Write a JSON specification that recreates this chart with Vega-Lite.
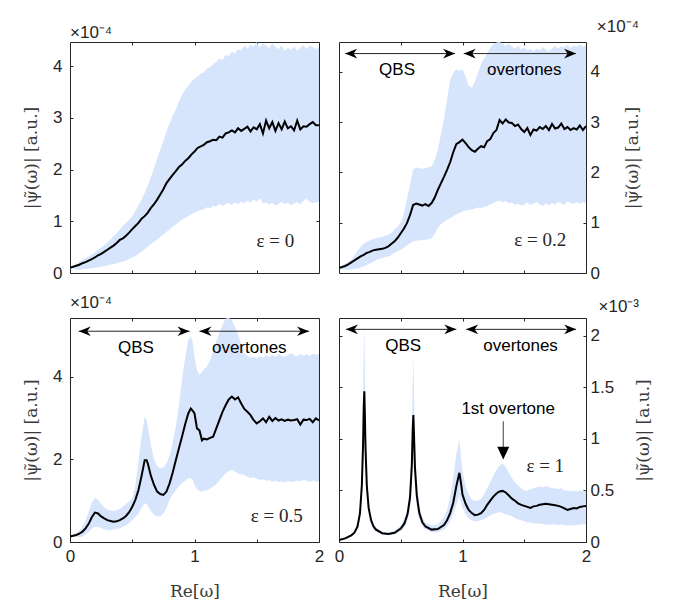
{
"$schema": "https://vega.github.io/schema/vega-lite/v6.json",
"padding": {"left": 22, "top": 17, "right": 5, "bottom": 5},
"background": "white",
"columns": 2,
"align": "each",
"bounds": "flush",
"spacing": {"row": 45, "column": 20},
"config": {
 "view": {"stroke": "#262626", "strokeWidth": 1},
 "axis": {"domain": false, "grid": false, "tickColor": "#262626", "tickSize": -3, "tickWidth": 1, "labelFont": "Liberation Sans", "labelFontSize": 17, "labelColor": "#262626", "labelPadding": 11, "titleFont": "DejaVu Serif", "titleFontSize": 17, "titleFontWeight": "normal", "titleColor": "#3a3a3a", "titlePadding": 12, "labelFlush": false},
 "title": {"font": "Liberation Sans", "fontSize": 17, "fontWeight": "normal", "color": "#262626"}
},
"datasets": {
"e0": [
{"x":0,"m":0.10,"lo":0.08,"hi":0.11},{"x":0.025,"m":0.12,"lo":0.08,"hi":0.14},{"x":0.05,"m":0.14,"lo":0.07,"hi":0.18},{"x":0.075,"m":0.16,"lo":0.07,"hi":0.22},{"x":0.1,"m":0.19,"lo":0.07,"hi":0.26},{"x":0.125,"m":0.21,"lo":0.08,"hi":0.29},{"x":0.15,"m":0.24,"lo":0.08,"hi":0.32},{"x":0.175,"m":0.27,"lo":0.09,"hi":0.36},{"x":0.2,"m":0.30,"lo":0.10,"hi":0.40},{"x":0.225,"m":0.34,"lo":0.11,"hi":0.45},{"x":0.25,"m":0.37,"lo":0.12,"hi":0.49},{"x":0.275,"m":0.41,"lo":0.13,"hi":0.54},{"x":0.3,"m":0.45,"lo":0.15,"hi":0.59},{"x":0.325,"m":0.49,"lo":0.16,"hi":0.65},{"x":0.35,"m":0.53,"lo":0.17,"hi":0.71},{"x":0.375,"m":0.58,"lo":0.19,"hi":0.77},{"x":0.4,"m":0.64,"lo":0.21,"hi":0.84},{"x":0.425,"m":0.67,"lo":0.22,"hi":0.91},{"x":0.45,"m":0.72,"lo":0.24,"hi":0.97},{"x":0.475,"m":0.78,"lo":0.27,"hi":1.03},{"x":0.5,"m":0.85,"lo":0.30,"hi":1.10},{"x":0.525,"m":0.91,"lo":0.33,"hi":1.20},{"x":0.55,"m":0.97,"lo":0.37,"hi":1.31},{"x":0.575,"m":1.05,"lo":0.42,"hi":1.42},{"x":0.6,"m":1.10,"lo":0.46,"hi":1.55},{"x":0.625,"m":1.17,"lo":0.51,"hi":1.70},{"x":0.65,"m":1.26,"lo":0.56,"hi":1.86},{"x":0.675,"m":1.33,"lo":0.60,"hi":2.03},{"x":0.7,"m":1.42,"lo":0.65,"hi":2.20},{"x":0.725,"m":1.52,"lo":0.70,"hi":2.38},{"x":0.75,"m":1.62,"lo":0.74,"hi":2.56},{"x":0.775,"m":1.74,"lo":0.80,"hi":2.74},{"x":0.8,"m":1.82,"lo":0.84,"hi":2.90},{"x":0.825,"m":1.90,"lo":0.90,"hi":3.04},{"x":0.85,"m":1.97,"lo":0.94,"hi":3.16},{"x":0.875,"m":2.05,"lo":0.99,"hi":3.32},{"x":0.9,"m":2.10,"lo":1.04,"hi":3.45},{"x":0.925,"m":2.17,"lo":1.07,"hi":3.55},{"x":0.95,"m":2.22,"lo":1.10,"hi":3.62},{"x":0.975,"m":2.29,"lo":1.14,"hi":3.70},{"x":1.0,"m":2.35,"lo":1.17,"hi":3.76},{"x":1.025,"m":2.42,"lo":1.20,"hi":3.80},{"x":1.05,"m":2.45,"lo":1.22,"hi":3.86},{"x":1.075,"m":2.48,"lo":1.23,"hi":3.88},{"x":1.1,"m":2.53,"lo":1.27,"hi":3.96},{"x":1.125,"m":2.55,"lo":1.25,"hi":3.98},{"x":1.15,"m":2.58,"lo":1.30,"hi":4.05},{"x":1.175,"m":2.57,"lo":1.28,"hi":4.08},{"x":1.2,"m":2.64,"lo":1.34,"hi":4.15},{"x":1.225,"m":2.62,"lo":1.30,"hi":4.12},{"x":1.25,"m":2.70,"lo":1.33,"hi":4.22},{"x":1.275,"m":2.72,"lo":1.36,"hi":4.20},{"x":1.3,"m":2.76,"lo":1.31,"hi":4.28},{"x":1.325,"m":2.72,"lo":1.37,"hi":4.25},{"x":1.35,"m":2.80,"lo":1.33,"hi":4.33},{"x":1.375,"m":2.75,"lo":1.38,"hi":4.30},{"x":1.4,"m":2.79,"lo":1.35,"hi":4.40},{"x":1.425,"m":2.83,"lo":1.40,"hi":4.34},{"x":1.45,"m":2.74,"lo":1.36,"hi":4.42},{"x":1.475,"m":2.82,"lo":1.43,"hi":4.38},{"x":1.5,"m":2.78,"lo":1.38,"hi":4.47},{"x":1.525,"m":2.88,"lo":1.45,"hi":4.36},{"x":1.55,"m":2.70,"lo":1.34,"hi":4.44},{"x":1.575,"m":2.95,"lo":1.37,"hi":4.40},{"x":1.6,"m":2.80,"lo":1.32,"hi":4.35},{"x":1.625,"m":2.92,"lo":1.36,"hi":4.44},{"x":1.65,"m":2.75,"lo":1.30,"hi":4.38},{"x":1.675,"m":2.90,"lo":1.34,"hi":4.33},{"x":1.7,"m":2.78,"lo":1.38,"hi":4.40},{"x":1.725,"m":2.93,"lo":1.33,"hi":4.30},{"x":1.75,"m":2.80,"lo":1.36,"hi":4.36},{"x":1.775,"m":2.84,"lo":1.31,"hi":4.32},{"x":1.8,"m":2.76,"lo":1.35,"hi":4.38},{"x":1.825,"m":2.95,"lo":1.37,"hi":4.30},{"x":1.85,"m":2.78,"lo":1.33,"hi":4.36},{"x":1.875,"m":2.84,"lo":1.40,"hi":4.41},{"x":1.9,"m":2.83,"lo":1.44,"hi":4.33},{"x":1.925,"m":2.88,"lo":1.38,"hi":4.40},{"x":1.95,"m":2.92,"lo":1.35,"hi":4.37},{"x":1.975,"m":2.86,"lo":1.37,"hi":4.34},{"x":2.0,"m":2.86,"lo":1.38,"hi":4.36}
],
"e2": [
{"x":0,"m":0.10,"lo":0.08,"hi":0.11},{"x":0.025,"m":0.12,"lo":0.07,"hi":0.15},{"x":0.05,"m":0.14,"lo":0.07,"hi":0.19},{"x":0.075,"m":0.17,"lo":0.07,"hi":0.22},{"x":0.1,"m":0.21,"lo":0.07,"hi":0.27},{"x":0.125,"m":0.25,"lo":0.08,"hi":0.35},{"x":0.15,"m":0.29,"lo":0.09,"hi":0.44},{"x":0.175,"m":0.33,"lo":0.11,"hi":0.52},{"x":0.2,"m":0.36,"lo":0.13,"hi":0.58},{"x":0.225,"m":0.40,"lo":0.16,"hi":0.62},{"x":0.25,"m":0.42,"lo":0.19,"hi":0.65},{"x":0.275,"m":0.45,"lo":0.22,"hi":0.67},{"x":0.3,"m":0.46,"lo":0.26,"hi":0.69},{"x":0.325,"m":0.47,"lo":0.28,"hi":0.70},{"x":0.35,"m":0.48,"lo":0.30,"hi":0.72},{"x":0.375,"m":0.50,"lo":0.32,"hi":0.74},{"x":0.4,"m":0.53,"lo":0.33,"hi":0.76},{"x":0.425,"m":0.58,"lo":0.36,"hi":0.80},{"x":0.45,"m":0.63,"lo":0.40,"hi":0.86},{"x":0.475,"m":0.70,"lo":0.43,"hi":0.92},{"x":0.5,"m":0.79,"lo":0.46,"hi":1.00},{"x":0.525,"m":0.88,"lo":0.50,"hi":1.18},{"x":0.55,"m":0.99,"lo":0.55,"hi":1.45},{"x":0.575,"m":1.15,"lo":0.59,"hi":1.75},{"x":0.6,"m":1.35,"lo":0.63,"hi":2.05},{"x":0.625,"m":1.38,"lo":0.64,"hi":2.10},{"x":0.65,"m":1.36,"lo":0.65,"hi":2.08},{"x":0.675,"m":1.34,"lo":0.65,"hi":2.07},{"x":0.7,"m":1.37,"lo":0.66,"hi":2.08},{"x":0.725,"m":1.33,"lo":0.67,"hi":2.10},{"x":0.75,"m":1.39,"lo":0.69,"hi":2.12},{"x":0.775,"m":1.50,"lo":0.78,"hi":2.25},{"x":0.8,"m":1.65,"lo":0.90,"hi":2.44},{"x":0.825,"m":1.78,"lo":0.97,"hi":2.75},{"x":0.85,"m":1.91,"lo":1.02,"hi":3.05},{"x":0.875,"m":2.05,"lo":1.06,"hi":3.45},{"x":0.9,"m":2.20,"lo":1.09,"hi":3.83},{"x":0.925,"m":2.40,"lo":1.13,"hi":3.98},{"x":0.95,"m":2.56,"lo":1.16,"hi":4.05},{"x":0.975,"m":2.60,"lo":1.19,"hi":4.02},{"x":1.0,"m":2.65,"lo":1.22,"hi":4.05},{"x":1.025,"m":2.58,"lo":1.24,"hi":3.90},{"x":1.05,"m":2.50,"lo":1.25,"hi":3.72},{"x":1.075,"m":2.44,"lo":1.26,"hi":3.68},{"x":1.1,"m":2.41,"lo":1.28,"hi":3.80},{"x":1.125,"m":2.47,"lo":1.30,"hi":3.97},{"x":1.15,"m":2.52,"lo":1.29,"hi":4.15},{"x":1.175,"m":2.50,"lo":1.31,"hi":4.26},{"x":1.2,"m":2.62,"lo":1.33,"hi":4.36},{"x":1.225,"m":2.66,"lo":1.36,"hi":4.47},{"x":1.25,"m":2.78,"lo":1.39,"hi":4.55},{"x":1.275,"m":2.84,"lo":1.42,"hi":4.58},{"x":1.3,"m":3.04,"lo":1.44,"hi":4.59},{"x":1.325,"m":2.97,"lo":1.40,"hi":4.55},{"x":1.35,"m":3.05,"lo":1.43,"hi":4.52},{"x":1.375,"m":2.99,"lo":1.38,"hi":4.56},{"x":1.4,"m":2.98,"lo":1.40,"hi":4.50},{"x":1.425,"m":2.92,"lo":1.36,"hi":4.46},{"x":1.45,"m":2.95,"lo":1.37,"hi":4.52},{"x":1.475,"m":2.86,"lo":1.34,"hi":4.44},{"x":1.5,"m":2.80,"lo":1.36,"hi":4.48},{"x":1.525,"m":2.88,"lo":1.40,"hi":4.42},{"x":1.55,"m":2.74,"lo":1.35,"hi":4.45},{"x":1.575,"m":2.85,"lo":1.38,"hi":4.40},{"x":1.6,"m":2.83,"lo":1.41,"hi":4.46},{"x":1.625,"m":2.90,"lo":1.36,"hi":4.42},{"x":1.65,"m":2.86,"lo":1.33,"hi":4.49},{"x":1.675,"m":2.92,"lo":1.38,"hi":4.44},{"x":1.7,"m":2.84,"lo":1.35,"hi":4.40},{"x":1.725,"m":2.96,"lo":1.39,"hi":4.47},{"x":1.75,"m":2.87,"lo":1.36,"hi":4.51},{"x":1.775,"m":2.89,"lo":1.41,"hi":4.46},{"x":1.8,"m":2.97,"lo":1.38,"hi":4.50},{"x":1.825,"m":2.86,"lo":1.35,"hi":4.48},{"x":1.85,"m":2.90,"lo":1.42,"hi":4.53},{"x":1.875,"m":2.84,"lo":1.39,"hi":4.47},{"x":1.9,"m":2.88,"lo":1.37,"hi":4.52},{"x":1.925,"m":2.85,"lo":1.41,"hi":4.49},{"x":1.95,"m":2.93,"lo":1.38,"hi":4.54},{"x":1.975,"m":2.84,"lo":1.40,"hi":4.50},{"x":2.0,"m":2.92,"lo":1.39,"hi":4.52}
],
"e5": [
{"x":0,"m":0.13,"lo":0.12,"hi":0.14},{"x":0.025,"m":0.15,"lo":0.12,"hi":0.17},{"x":0.05,"m":0.17,"lo":0.12,"hi":0.21},{"x":0.075,"m":0.20,"lo":0.12,"hi":0.28},{"x":0.1,"m":0.25,"lo":0.13,"hi":0.37},{"x":0.125,"m":0.33,"lo":0.18,"hi":0.52},{"x":0.15,"m":0.44,"lo":0.24,"hi":0.74},{"x":0.175,"m":0.60,"lo":0.32,"hi":0.95},{"x":0.2,"m":0.71,"lo":0.37,"hi":1.07},{"x":0.225,"m":0.69,"lo":0.36,"hi":1.02},{"x":0.25,"m":0.62,"lo":0.33,"hi":0.92},{"x":0.275,"m":0.57,"lo":0.31,"hi":0.84},{"x":0.3,"m":0.53,"lo":0.29,"hi":0.78},{"x":0.325,"m":0.51,"lo":0.29,"hi":0.76},{"x":0.35,"m":0.49,"lo":0.30,"hi":0.75},{"x":0.375,"m":0.50,"lo":0.31,"hi":0.77},{"x":0.4,"m":0.53,"lo":0.33,"hi":0.80},{"x":0.425,"m":0.57,"lo":0.36,"hi":0.85},{"x":0.45,"m":0.63,"lo":0.40,"hi":0.92},{"x":0.475,"m":0.72,"lo":0.46,"hi":0.98},{"x":0.5,"m":0.85,"lo":0.53,"hi":1.06},{"x":0.525,"m":1.02,"lo":0.60,"hi":1.35},{"x":0.55,"m":1.26,"lo":0.69,"hi":1.95},{"x":0.575,"m":1.60,"lo":0.82,"hi":2.55},{"x":0.6,"m":1.98,"lo":0.94,"hi":3.03},{"x":0.615,"m":1.98,"lo":0.92,"hi":2.95},{"x":0.625,"m":1.90,"lo":0.88,"hi":2.80},{"x":0.65,"m":1.60,"lo":0.75,"hi":2.35},{"x":0.675,"m":1.38,"lo":0.66,"hi":2.00},{"x":0.7,"m":1.22,"lo":0.61,"hi":1.83},{"x":0.725,"m":1.16,"lo":0.63,"hi":1.78},{"x":0.75,"m":1.14,"lo":0.69,"hi":1.80},{"x":0.775,"m":1.22,"lo":0.82,"hi":1.90},{"x":0.8,"m":1.42,"lo":1.02,"hi":2.08},{"x":0.825,"m":1.68,"lo":1.15,"hi":2.40},{"x":0.85,"m":1.98,"lo":1.26,"hi":2.80},{"x":0.875,"m":2.27,"lo":1.35,"hi":3.30},{"x":0.9,"m":2.55,"lo":1.42,"hi":3.92},{"x":0.925,"m":2.85,"lo":1.48,"hi":4.45},{"x":0.95,"m":3.11,"lo":1.54,"hi":4.89},{"x":0.97,"m":3.23,"lo":1.55,"hi":4.98},{"x":0.985,"m":3.18,"lo":1.50,"hi":4.85},{"x":1.0,"m":3.11,"lo":1.38,"hi":4.48},{"x":1.02,"m":2.75,"lo":1.28,"hi":4.15},{"x":1.04,"m":2.70,"lo":1.23,"hi":4.05},{"x":1.06,"m":2.46,"lo":1.22,"hi":4.10},{"x":1.075,"m":2.50,"lo":1.24,"hi":4.18},{"x":1.1,"m":2.48,"lo":1.26,"hi":4.24},{"x":1.125,"m":2.52,"lo":1.29,"hi":4.40},{"x":1.15,"m":2.55,"lo":1.34,"hi":4.62},{"x":1.175,"m":2.75,"lo":1.40,"hi":4.85},{"x":1.2,"m":2.95,"lo":1.48,"hi":5.05},{"x":1.225,"m":3.15,"lo":1.58,"hi":5.25},{"x":1.25,"m":3.31,"lo":1.66,"hi":5.41},{"x":1.275,"m":3.45,"lo":1.72,"hi":5.42},{"x":1.3,"m":3.52,"lo":1.74,"hi":5.37},{"x":1.325,"m":3.45,"lo":1.70,"hi":5.20},{"x":1.35,"m":3.50,"lo":1.66,"hi":5.02},{"x":1.375,"m":3.35,"lo":1.64,"hi":4.78},{"x":1.4,"m":3.22,"lo":1.62,"hi":4.56},{"x":1.425,"m":3.15,"lo":1.58,"hi":4.50},{"x":1.45,"m":3.07,"lo":1.55,"hi":4.46},{"x":1.475,"m":2.95,"lo":1.56,"hi":4.48},{"x":1.5,"m":2.87,"lo":1.53,"hi":4.44},{"x":1.525,"m":2.92,"lo":1.50,"hi":4.50},{"x":1.55,"m":2.99,"lo":1.52,"hi":4.46},{"x":1.575,"m":2.90,"lo":1.48,"hi":4.51},{"x":1.6,"m":3.03,"lo":1.50,"hi":4.47},{"x":1.625,"m":2.93,"lo":1.46,"hi":4.53},{"x":1.65,"m":3.00,"lo":1.49,"hi":4.49},{"x":1.675,"m":2.94,"lo":1.45,"hi":4.55},{"x":1.7,"m":2.97,"lo":1.47,"hi":4.50},{"x":1.725,"m":2.93,"lo":1.44,"hi":4.48},{"x":1.75,"m":2.96,"lo":1.47,"hi":4.53},{"x":1.775,"m":2.94,"lo":1.46,"hi":4.57},{"x":1.8,"m":2.95,"lo":1.45,"hi":4.52},{"x":1.825,"m":2.97,"lo":1.49,"hi":4.49},{"x":1.85,"m":2.84,"lo":1.47,"hi":4.55},{"x":1.875,"m":2.96,"lo":1.50,"hi":4.51},{"x":1.9,"m":2.95,"lo":1.49,"hi":4.54},{"x":1.925,"m":2.98,"lo":1.46,"hi":4.50},{"x":1.95,"m":2.90,"lo":1.48,"hi":4.56},{"x":1.975,"m":2.99,"lo":1.47,"hi":4.53},{"x":2.0,"m":2.94,"lo":1.46,"hi":4.55}
],
"e10": [
{"x":0,"m":0.02,"lo":0.015,"hi":0.03},{"x":0.05,"m":0.035,"lo":0.03,"hi":0.045},{"x":0.1,"m":0.065,"lo":0.055,"hi":0.08},{"x":0.125,"m":0.09,"lo":0.075,"hi":0.11},{"x":0.15,"m":0.15,"lo":0.12,"hi":0.19},{"x":0.17,"m":0.28,"lo":0.22,"hi":0.36},{"x":0.185,"m":0.55,"lo":0.42,"hi":0.75},{"x":0.195,"m":0.95,"lo":0.70,"hi":1.30},{"x":0.2,"m":1.30,"lo":0.95,"hi":1.90},{"x":0.205,"m":1.46,"lo":1.05,"hi":2.10},{"x":0.21,"m":1.20,"lo":0.90,"hi":1.65},{"x":0.215,"m":0.90,"lo":0.68,"hi":1.15},{"x":0.225,"m":0.55,"lo":0.42,"hi":0.70},{"x":0.24,"m":0.33,"lo":0.26,"hi":0.40},{"x":0.26,"m":0.21,"lo":0.17,"hi":0.25},{"x":0.28,"m":0.15,"lo":0.12,"hi":0.18},{"x":0.3,"m":0.12,"lo":0.10,"hi":0.14},{"x":0.35,"m":0.085,"lo":0.07,"hi":0.10},{"x":0.4,"m":0.078,"lo":0.065,"hi":0.09},{"x":0.45,"m":0.09,"lo":0.075,"hi":0.11},{"x":0.5,"m":0.13,"lo":0.105,"hi":0.16},{"x":0.53,"m":0.18,"lo":0.14,"hi":0.22},{"x":0.555,"m":0.27,"lo":0.21,"hi":0.33},{"x":0.575,"m":0.43,"lo":0.32,"hi":0.56},{"x":0.59,"m":0.75,"lo":0.55,"hi":1.05},{"x":0.597,"m":1.10,"lo":0.85,"hi":1.55},{"x":0.602,"m":1.23,"lo":0.95,"hi":1.80},{"x":0.607,"m":1.05,"lo":0.80,"hi":1.50},{"x":0.615,"m":0.72,"lo":0.55,"hi":0.98},{"x":0.63,"m":0.45,"lo":0.34,"hi":0.58},{"x":0.65,"m":0.28,"lo":0.22,"hi":0.36},{"x":0.675,"m":0.19,"lo":0.15,"hi":0.24},{"x":0.7,"m":0.15,"lo":0.12,"hi":0.19},{"x":0.75,"m":0.12,"lo":0.095,"hi":0.16},{"x":0.8,"m":0.125,"lo":0.095,"hi":0.17},{"x":0.85,"m":0.165,"lo":0.12,"hi":0.24},{"x":0.875,"m":0.21,"lo":0.15,"hi":0.31},{"x":0.9,"m":0.28,"lo":0.20,"hi":0.43},{"x":0.925,"m":0.38,"lo":0.27,"hi":0.62},{"x":0.95,"m":0.54,"lo":0.36,"hi":0.85},{"x":0.965,"m":0.62,"lo":0.41,"hi":0.93},{"x":0.975,"m":0.67,"lo":0.44,"hi":0.99},{"x":0.99,"m":0.55,"lo":0.37,"hi":0.80},{"x":1.0,"m":0.46,"lo":0.33,"hi":0.68},{"x":1.025,"m":0.37,"lo":0.27,"hi":0.54},{"x":1.05,"m":0.31,"lo":0.23,"hi":0.46},{"x":1.075,"m":0.28,"lo":0.21,"hi":0.41},{"x":1.1,"m":0.26,"lo":0.20,"hi":0.40},{"x":1.125,"m":0.265,"lo":0.20,"hi":0.40},{"x":1.15,"m":0.28,"lo":0.21,"hi":0.42},{"x":1.175,"m":0.31,"lo":0.22,"hi":0.46},{"x":1.2,"m":0.36,"lo":0.24,"hi":0.52},{"x":1.225,"m":0.40,"lo":0.26,"hi":0.58},{"x":1.25,"m":0.44,"lo":0.27,"hi":0.64},{"x":1.275,"m":0.47,"lo":0.28,"hi":0.70},{"x":1.3,"m":0.49,"lo":0.29,"hi":0.74},{"x":1.325,"m":0.495,"lo":0.28,"hi":0.76},{"x":1.35,"m":0.48,"lo":0.27,"hi":0.73},{"x":1.375,"m":0.45,"lo":0.26,"hi":0.67},{"x":1.4,"m":0.42,"lo":0.25,"hi":0.62},{"x":1.425,"m":0.40,"lo":0.23,"hi":0.58},{"x":1.45,"m":0.375,"lo":0.22,"hi":0.55},{"x":1.475,"m":0.36,"lo":0.21,"hi":0.52},{"x":1.5,"m":0.35,"lo":0.20,"hi":0.50},{"x":1.525,"m":0.34,"lo":0.19,"hi":0.50},{"x":1.55,"m":0.33,"lo":0.19,"hi":0.51},{"x":1.575,"m":0.345,"lo":0.185,"hi":0.52},{"x":1.6,"m":0.35,"lo":0.18,"hi":0.53},{"x":1.625,"m":0.36,"lo":0.18,"hi":0.54},{"x":1.65,"m":0.365,"lo":0.175,"hi":0.53},{"x":1.675,"m":0.37,"lo":0.17,"hi":0.54},{"x":1.7,"m":0.365,"lo":0.17,"hi":0.53},{"x":1.725,"m":0.36,"lo":0.17,"hi":0.52},{"x":1.75,"m":0.355,"lo":0.17,"hi":0.52},{"x":1.775,"m":0.35,"lo":0.165,"hi":0.51},{"x":1.8,"m":0.34,"lo":0.17,"hi":0.52},{"x":1.825,"m":0.325,"lo":0.165,"hi":0.50},{"x":1.85,"m":0.31,"lo":0.16,"hi":0.50},{"x":1.875,"m":0.32,"lo":0.165,"hi":0.49},{"x":1.9,"m":0.33,"lo":0.16,"hi":0.50},{"x":1.925,"m":0.325,"lo":0.165,"hi":0.49},{"x":1.95,"m":0.34,"lo":0.17,"hi":0.50},{"x":1.975,"m":0.345,"lo":0.17,"hi":0.49},{"x":2.0,"m":0.35,"lo":0.17,"hi":0.50}
]
},
"concat": [
{
 "width": 249, "height": 231,
 "title": {"text": "×10⁻⁴", "anchor": "start", "frame": "group", "offset": 0},
 "data": {"name": "e0"},
 "layer": [
  {"mark": {"type": "area", "color": "#d6e4fc", "clip": true},
   "encoding": {
    "x": {"field": "x", "type": "quantitative", "scale": {"domain": [0, 2]}, "axis": {"orient": "bottom", "values": [0.5, 1, 1.5], "labels": false, "title": null}},
    "y": {"field": "lo", "type": "quantitative", "scale": {"domain": [0, 4.47]}, "axis": {"orient": "left", "values": [0, 1, 2, 3, 4], "title": "|ψ̃(ω)| [a.u.]"}},
    "y2": {"field": "hi"}}},
  {"mark": {"type": "line", "color": "#000000", "strokeWidth": 2, "clip": true},
   "encoding": {
    "x": {"field": "x", "type": "quantitative", "scale": {"domain": [0, 2]}, "axis": {"orient": "top", "values": [0.5, 1, 1.5], "labels": false, "title": null}},
    "y": {"field": "m", "type": "quantitative", "scale": {"domain": [0, 4.47]}, "axis": {"orient": "right", "values": [1, 2, 3, 4], "labels": false, "title": null}}}},
  {"data": {"values": [{}]},
   "mark": {"type": "text", "font": "Liberation Serif", "fontSize": 19, "color": "#262626", "text": "ε = 0"},
   "encoding": {
    "x": {"datum": 1.65, "type": "quantitative", "scale": {"domain": [0, 2]}, "axis": null},
    "y": {"datum": 0.62, "type": "quantitative", "scale": {"domain": [0, 4.47]}, "axis": null}}}
 ],
 "resolve": {"axis": {"x": "independent", "y": "independent"}}
},
{
 "width": 247, "height": 231,
 "title": {"text": "×10⁻⁴", "anchor": "end", "frame": "group", "dx": 53, "offset": 6},
 "data": {"name": "e2"},
 "layer": [
  {"mark": {"type": "area", "color": "#d6e4fc", "clip": true},
   "encoding": {
    "x": {"field": "x", "type": "quantitative", "scale": {"domain": [0, 2]}, "axis": {"orient": "bottom", "values": [0.5, 1, 1.5], "labels": false, "title": null}},
    "y": {"field": "lo", "type": "quantitative", "scale": {"domain": [0, 4.59]}, "axis": {"orient": "right", "values": [0, 1, 2, 3, 4], "title": "|ψ̃(ω)| [a.u.]", "titleAngle": -90, "titleBaseline": "top", "labelPadding": 7, "titlePadding": 25}},
    "y2": {"field": "hi"}}},
  {"mark": {"type": "line", "color": "#000000", "strokeWidth": 2, "clip": true},
   "encoding": {
    "x": {"field": "x", "type": "quantitative", "scale": {"domain": [0, 2]}, "axis": {"orient": "top", "values": [0.5, 1, 1.5], "labels": false, "title": null}},
    "y": {"field": "m", "type": "quantitative", "scale": {"domain": [0, 4.59]}, "axis": {"orient": "left", "values": [1, 2, 3, 4], "labels": false, "title": null}}}},
  {"data": {"values": [{}]}, "mark": {"type": "rule", "color": "#262626", "strokeWidth": 1},
   "encoding": {"x": {"datum": 0.05, "type": "quantitative", "scale": {"domain": [0, 2]}, "axis": null}, "x2": {"datum": 0.94}, "y": {"datum": 4.36, "type": "quantitative", "scale": {"domain": [0, 4.59]}, "axis": null}}},
  {"data": {"values": [{}]}, "mark": {"type": "rule", "color": "#262626", "strokeWidth": 1},
   "encoding": {"x": {"datum": 1.01, "type": "quantitative", "scale": {"domain": [0, 2]}, "axis": null}, "x2": {"datum": 1.92}, "y": {"datum": 4.36, "type": "quantitative", "scale": {"domain": [0, 4.59]}, "axis": null}}},
  {"data": {"values": [{}]}, "mark": {"type": "point", "shape": "M0,0L2,-0.8L1.4,0L2,0.8Z", "size": 144, "filled": true, "color": "#000000", "opacity": 1},
   "encoding": {"x": {"datum": 0.05, "type": "quantitative", "scale": {"domain": [0, 2]}, "axis": null}, "y": {"datum": 4.36, "type": "quantitative", "scale": {"domain": [0, 4.59]}, "axis": null}}},
  {"data": {"values": [{}]}, "mark": {"type": "point", "shape": "M0,0L-2,-0.8L-1.4,0L-2,0.8Z", "size": 144, "filled": true, "color": "#000000", "opacity": 1},
   "encoding": {"x": {"datum": 0.94, "type": "quantitative", "scale": {"domain": [0, 2]}, "axis": null}, "y": {"datum": 4.36, "type": "quantitative", "scale": {"domain": [0, 4.59]}, "axis": null}}},
  {"data": {"values": [{}]}, "mark": {"type": "point", "shape": "M0,0L2,-0.8L1.4,0L2,0.8Z", "size": 144, "filled": true, "color": "#000000", "opacity": 1},
   "encoding": {"x": {"datum": 1.01, "type": "quantitative", "scale": {"domain": [0, 2]}, "axis": null}, "y": {"datum": 4.36, "type": "quantitative", "scale": {"domain": [0, 4.59]}, "axis": null}}},
  {"data": {"values": [{}]}, "mark": {"type": "point", "shape": "M0,0L-2,-0.8L-1.4,0L-2,0.8Z", "size": 144, "filled": true, "color": "#000000", "opacity": 1},
   "encoding": {"x": {"datum": 1.92, "type": "quantitative", "scale": {"domain": [0, 2]}, "axis": null}, "y": {"datum": 4.36, "type": "quantitative", "scale": {"domain": [0, 4.59]}, "axis": null}}},
  {"data": {"values": [{}]}, "mark": {"type": "text", "font": "Liberation Sans", "fontSize": 17, "color": "#000000", "text": "QBS"},
   "encoding": {"x": {"datum": 0.47, "type": "quantitative", "scale": {"domain": [0, 2]}, "axis": null}, "y": {"datum": 4.03, "type": "quantitative", "scale": {"domain": [0, 4.59]}, "axis": null}}},
  {"data": {"values": [{}]}, "mark": {"type": "text", "font": "Liberation Sans", "fontSize": 17, "color": "#000000", "text": "overtones"},
   "encoding": {"x": {"datum": 1.5, "type": "quantitative", "scale": {"domain": [0, 2]}, "axis": null}, "y": {"datum": 4.03, "type": "quantitative", "scale": {"domain": [0, 4.59]}, "axis": null}}},
  {"data": {"values": [{}]}, "mark": {"type": "text", "font": "Liberation Serif", "fontSize": 19, "color": "#262626", "text": "ε = 0.2"},
   "encoding": {"x": {"datum": 1.63, "type": "quantitative", "scale": {"domain": [0, 2]}, "axis": null}, "y": {"datum": 0.65, "type": "quantitative", "scale": {"domain": [0, 4.59]}, "axis": null}}}
 ],
 "resolve": {"axis": {"x": "independent", "y": "independent"}}
},
{
 "width": 249, "height": 224,
 "title": {"text": "×10⁻⁴", "anchor": "start", "frame": "group", "offset": 6},
 "data": {"name": "e5"},
 "layer": [
  {"mark": {"type": "area", "color": "#d6e4fc", "clip": true},
   "encoding": {
    "x": {"field": "x", "type": "quantitative", "scale": {"domain": [0, 2]}, "axis": {"orient": "bottom", "values": [0, 0.5, 1, 1.5, 2], "labelExpr": "datum.value % 1 === 0 ? datum.label : ''", "format": "~g", "title": "Re[ω]", "labelPadding": 9, "titlePadding": 19}},
    "y": {"field": "lo", "type": "quantitative", "scale": {"domain": [0, 5.42]}, "axis": {"orient": "left", "values": [0, 2, 4], "title": "|ψ̃(ω)| [a.u.]"}},
    "y2": {"field": "hi"}}},
  {"mark": {"type": "line", "color": "#000000", "strokeWidth": 2, "clip": true},
   "encoding": {
    "x": {"field": "x", "type": "quantitative", "scale": {"domain": [0, 2]}, "axis": {"orient": "top", "values": [0.5, 1, 1.5], "labels": false, "title": null}},
    "y": {"field": "m", "type": "quantitative", "scale": {"domain": [0, 5.42]}, "axis": {"orient": "right", "values": [2, 4], "labels": false, "title": null}}}},
  {"data": {"values": [{}]}, "mark": {"type": "rule", "color": "#262626", "strokeWidth": 1},
   "encoding": {"x": {"datum": 0.07, "type": "quantitative", "scale": {"domain": [0, 2]}, "axis": null}, "x2": {"datum": 0.96}, "y": {"datum": 5.1, "type": "quantitative", "scale": {"domain": [0, 5.42]}, "axis": null}}},
  {"data": {"values": [{}]}, "mark": {"type": "rule", "color": "#262626", "strokeWidth": 1},
   "encoding": {"x": {"datum": 1.04, "type": "quantitative", "scale": {"domain": [0, 2]}, "axis": null}, "x2": {"datum": 1.92}, "y": {"datum": 5.1, "type": "quantitative", "scale": {"domain": [0, 5.42]}, "axis": null}}},
  {"data": {"values": [{}]}, "mark": {"type": "point", "shape": "M0,0L2,-0.8L1.4,0L2,0.8Z", "size": 144, "filled": true, "color": "#000000", "opacity": 1},
   "encoding": {"x": {"datum": 0.07, "type": "quantitative", "scale": {"domain": [0, 2]}, "axis": null}, "y": {"datum": 5.1, "type": "quantitative", "scale": {"domain": [0, 5.42]}, "axis": null}}},
  {"data": {"values": [{}]}, "mark": {"type": "point", "shape": "M0,0L-2,-0.8L-1.4,0L-2,0.8Z", "size": 144, "filled": true, "color": "#000000", "opacity": 1},
   "encoding": {"x": {"datum": 0.96, "type": "quantitative", "scale": {"domain": [0, 2]}, "axis": null}, "y": {"datum": 5.1, "type": "quantitative", "scale": {"domain": [0, 5.42]}, "axis": null}}},
  {"data": {"values": [{}]}, "mark": {"type": "point", "shape": "M0,0L2,-0.8L1.4,0L2,0.8Z", "size": 144, "filled": true, "color": "#000000", "opacity": 1},
   "encoding": {"x": {"datum": 1.04, "type": "quantitative", "scale": {"domain": [0, 2]}, "axis": null}, "y": {"datum": 5.1, "type": "quantitative", "scale": {"domain": [0, 5.42]}, "axis": null}}},
  {"data": {"values": [{}]}, "mark": {"type": "point", "shape": "M0,0L-2,-0.8L-1.4,0L-2,0.8Z", "size": 144, "filled": true, "color": "#000000", "opacity": 1},
   "encoding": {"x": {"datum": 1.92, "type": "quantitative", "scale": {"domain": [0, 2]}, "axis": null}, "y": {"datum": 5.1, "type": "quantitative", "scale": {"domain": [0, 5.42]}, "axis": null}}},
  {"data": {"values": [{}]}, "mark": {"type": "text", "font": "Liberation Sans", "fontSize": 17, "color": "#000000", "text": "QBS"},
   "encoding": {"x": {"datum": 0.53, "type": "quantitative", "scale": {"domain": [0, 2]}, "axis": null}, "y": {"datum": 4.69, "type": "quantitative", "scale": {"domain": [0, 5.42]}, "axis": null}}},
  {"data": {"values": [{}]}, "mark": {"type": "text", "font": "Liberation Sans", "fontSize": 17, "color": "#000000", "text": "overtones"},
   "encoding": {"x": {"datum": 1.44, "type": "quantitative", "scale": {"domain": [0, 2]}, "axis": null}, "y": {"datum": 4.69, "type": "quantitative", "scale": {"domain": [0, 5.42]}, "axis": null}}},
  {"data": {"values": [{}]}, "mark": {"type": "text", "font": "Liberation Serif", "fontSize": 19, "color": "#262626", "text": "ε = 0.5"},
   "encoding": {"x": {"datum": 1.66, "type": "quantitative", "scale": {"domain": [0, 2]}, "axis": null}, "y": {"datum": 0.62, "type": "quantitative", "scale": {"domain": [0, 5.42]}, "axis": null}}}
 ],
 "resolve": {"axis": {"x": "independent", "y": "independent"}}
},
{
 "width": 247, "height": 224,
 "title": {"text": "×10⁻³", "anchor": "end", "frame": "group", "dx": 53, "offset": 2},
 "data": {"name": "e10"},
 "layer": [
  {"mark": {"type": "area", "color": "#d6e4fc", "clip": true},
   "encoding": {
    "x": {"field": "x", "type": "quantitative", "scale": {"domain": [0, 2]}, "axis": {"orient": "bottom", "values": [0, 0.5, 1, 1.5, 2], "labelExpr": "datum.value % 1 === 0 ? datum.label : ''", "format": "~g", "title": "Re[ω]", "labelPadding": 9, "titlePadding": 19}},
    "y": {"field": "lo", "type": "quantitative", "scale": {"domain": [0, 2.17]}, "axis": {"orient": "right", "values": [0, 0.5, 1, 1.5, 2], "format": "~g", "title": "|ψ̃(ω)| [a.u.]", "titleAngle": -90, "titleBaseline": "top", "labelPadding": 7, "titlePadding": 22}},
    "y2": {"field": "hi"}}},
  {"mark": {"type": "line", "color": "#000000", "strokeWidth": 2, "clip": true},
   "encoding": {
    "x": {"field": "x", "type": "quantitative", "scale": {"domain": [0, 2]}, "axis": {"orient": "top", "values": [0.5, 1, 1.5], "labels": false, "title": null}},
    "y": {"field": "m", "type": "quantitative", "scale": {"domain": [0, 2.17]}, "axis": {"orient": "left", "values": [0.5, 1, 1.5, 2], "labels": false, "title": null}}}},
  {"data": {"values": [{}]}, "mark": {"type": "rule", "color": "#262626", "strokeWidth": 1},
   "encoding": {"x": {"datum": 0.056, "type": "quantitative", "scale": {"domain": [0, 2]}, "axis": null}, "x2": {"datum": 0.95}, "y": {"datum": 2.06, "type": "quantitative", "scale": {"domain": [0, 2.17]}, "axis": null}}},
  {"data": {"values": [{}]}, "mark": {"type": "rule", "color": "#262626", "strokeWidth": 1},
   "encoding": {"x": {"datum": 1.03, "type": "quantitative", "scale": {"domain": [0, 2]}, "axis": null}, "x2": {"datum": 1.92}, "y": {"datum": 2.06, "type": "quantitative", "scale": {"domain": [0, 2.17]}, "axis": null}}},
  {"data": {"values": [{}]}, "mark": {"type": "point", "shape": "M0,0L2,-0.8L1.4,0L2,0.8Z", "size": 144, "filled": true, "color": "#000000", "opacity": 1},
   "encoding": {"x": {"datum": 0.056, "type": "quantitative", "scale": {"domain": [0, 2]}, "axis": null}, "y": {"datum": 2.06, "type": "quantitative", "scale": {"domain": [0, 2.17]}, "axis": null}}},
  {"data": {"values": [{}]}, "mark": {"type": "point", "shape": "M0,0L-2,-0.8L-1.4,0L-2,0.8Z", "size": 144, "filled": true, "color": "#000000", "opacity": 1},
   "encoding": {"x": {"datum": 0.95, "type": "quantitative", "scale": {"domain": [0, 2]}, "axis": null}, "y": {"datum": 2.06, "type": "quantitative", "scale": {"domain": [0, 2.17]}, "axis": null}}},
  {"data": {"values": [{}]}, "mark": {"type": "point", "shape": "M0,0L2,-0.8L1.4,0L2,0.8Z", "size": 144, "filled": true, "color": "#000000", "opacity": 1},
   "encoding": {"x": {"datum": 1.03, "type": "quantitative", "scale": {"domain": [0, 2]}, "axis": null}, "y": {"datum": 2.06, "type": "quantitative", "scale": {"domain": [0, 2.17]}, "axis": null}}},
  {"data": {"values": [{}]}, "mark": {"type": "point", "shape": "M0,0L-2,-0.8L-1.4,0L-2,0.8Z", "size": 144, "filled": true, "color": "#000000", "opacity": 1},
   "encoding": {"x": {"datum": 1.92, "type": "quantitative", "scale": {"domain": [0, 2]}, "axis": null}, "y": {"datum": 2.06, "type": "quantitative", "scale": {"domain": [0, 2.17]}, "axis": null}}},
  {"data": {"values": [{}]}, "mark": {"type": "rule", "color": "#404040", "strokeWidth": 1},
   "encoding": {"x": {"datum": 1.33, "type": "quantitative", "scale": {"domain": [0, 2]}, "axis": null}, "y": {"datum": 1.17, "type": "quantitative", "scale": {"domain": [0, 2.17]}, "axis": null}, "y2": {"datum": 0.86}}},
  {"data": {"values": [{}]}, "mark": {"type": "point", "shape": "M0,0L-1,-2.1L1,-2.1Z", "size": 144, "filled": true, "color": "#000000", "opacity": 1},
   "encoding": {"x": {"datum": 1.33, "type": "quantitative", "scale": {"domain": [0, 2]}, "axis": null}, "y": {"datum": 0.8, "type": "quantitative", "scale": {"domain": [0, 2.17]}, "axis": null}}},
  {"data": {"values": [{}]}, "mark": {"type": "text", "font": "Liberation Sans", "fontSize": 17, "color": "#000000", "text": "QBS"},
   "encoding": {"x": {"datum": 0.52, "type": "quantitative", "scale": {"domain": [0, 2]}, "axis": null}, "y": {"datum": 1.9, "type": "quantitative", "scale": {"domain": [0, 2.17]}, "axis": null}}},
  {"data": {"values": [{}]}, "mark": {"type": "text", "font": "Liberation Sans", "fontSize": 17, "color": "#000000", "text": "overtones"},
   "encoding": {"x": {"datum": 1.47, "type": "quantitative", "scale": {"domain": [0, 2]}, "axis": null}, "y": {"datum": 1.9, "type": "quantitative", "scale": {"domain": [0, 2.17]}, "axis": null}}},
  {"data": {"values": [{}]}, "mark": {"type": "text", "font": "Liberation Sans", "fontSize": 17, "color": "#000000", "text": "1st overtone"},
   "encoding": {"x": {"datum": 1.37, "type": "quantitative", "scale": {"domain": [0, 2]}, "axis": null}, "y": {"datum": 1.285, "type": "quantitative", "scale": {"domain": [0, 2.17]}, "axis": null}}},
  {"data": {"values": [{}]}, "mark": {"type": "text", "font": "Liberation Serif", "fontSize": 19, "color": "#262626", "text": "ε = 1"},
   "encoding": {"x": {"datum": 1.67, "type": "quantitative", "scale": {"domain": [0, 2]}, "axis": null}, "y": {"datum": 0.735, "type": "quantitative", "scale": {"domain": [0, 2.17]}, "axis": null}}}
 ],
 "resolve": {"axis": {"x": "independent", "y": "independent"}}
}
]
}
